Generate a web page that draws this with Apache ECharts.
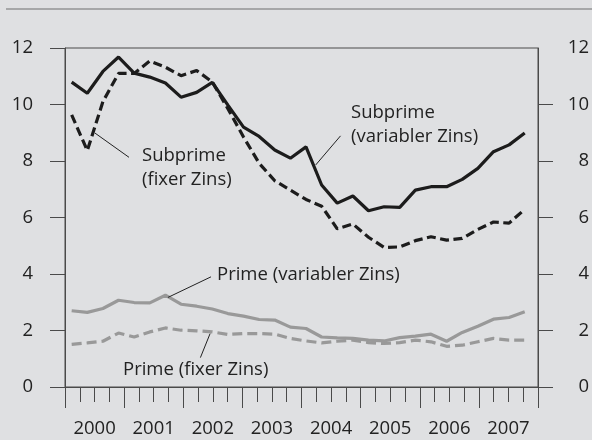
<!DOCTYPE html>
<html>
<head>
<meta charset="utf-8">
<script src="https://cdn.jsdelivr.net/npm/echarts@6/dist/echarts.min.js"></script>
<style>
html,body{margin:0;padding:0;background:#dfe0e2;}
#c{width:592px;height:440px;}
</style>
</head>
<body>
<div id="c"></div>
<script>
// ---- data ----
const years = ['2000','2001','2002','2003','2004','2005','2006','2007'];
const yTickValues = [0,2,4,6,8,10,12];
const subprimeVariabel = [10.79,10.40,11.17,11.68,11.11,10.97,10.76,10.26,10.43,10.78,9.98,9.20,8.87,8.39,8.10,8.50,7.15,6.51,6.76,6.24,6.38,6.36,6.97,7.09,7.09,7.35,7.74,8.33,8.57,8.99];
const subprimeFix = [9.63,8.37,10.10,11.10,11.10,11.54,11.32,11.02,11.20,10.80,9.85,8.85,7.92,7.30,6.97,6.64,6.40,5.60,5.77,5.30,4.94,4.96,5.18,5.32,5.20,5.26,5.58,5.84,5.80,6.29];
const primeVariabel = [2.70,2.64,2.78,3.07,2.99,2.98,3.25,2.93,2.86,2.76,2.60,2.51,2.39,2.37,2.12,2.07,1.77,1.74,1.72,1.66,1.63,1.75,1.80,1.87,1.62,1.93,2.15,2.40,2.46,2.66];
const primeFix = [1.51,1.56,1.62,1.91,1.77,1.95,2.09,2.01,1.99,1.95,1.86,1.89,1.89,1.87,1.72,1.63,1.56,1.62,1.66,1.57,1.54,1.57,1.66,1.60,1.44,1.48,1.60,1.72,1.66,1.66];
// leader lines (data units: point index, percent)
const leaderSubprimeFix = [[1.49,8.99],[3.67,8.13]];
const leaderSubprimeVar = [[17.21,8.89],[15.62,7.86]];
const leaderPrimeVar = [[8.92,3.90],[6.16,3.17]];
const leaderPrimeFix = [[8.24,1.04],[8.86,1.89]];

const FONT = '"Open Sans", "Noto Sans", sans-serif';
const TXT = '#222';
const AX = '#4a4a4a';

const toPairs = arr => arr.map((v,i)=>[i,v]);
const leader = seg => [{coord:seg[0]},{coord:seg[1]}];

const chart = echarts.init(document.getElementById('c'), null, {renderer:'canvas'});
chart.setOption({
  animation:false,
  backgroundColor:'#dfe0e2',
  textStyle:{fontFamily:FONT},
  grid:{left:65, top:48, width:475, height:339, show:true, borderColor:AX, borderWidth:1, backgroundColor:'transparent'},
  xAxis:[
    {type:'value', position:'bottom', min:0, max:32, interval:4,
     axisLine:{show:true, onZero:false, lineStyle:{color:AX, width:1}},
     axisTick:{show:true, length:21, lineStyle:{color:AX, width:1}},
     minorTick:{show:true, splitNumber:4, length:15, lineStyle:{color:AX, width:1}},
     axisLabel:{show:false}, splitLine:{show:false}},
    {type:'category', position:'bottom', data:years, boundaryGap:true,
     axisLine:{show:false, onZero:false}, axisTick:{show:false}, splitLine:{show:false},
     axisLabel:{show:true, interval:0, margin:42, verticalAlign:'middle', color:TXT, fontSize:18.5, fontFamily:FONT}},
    {type:'value', position:'bottom', min:-0.427, max:29.85, show:false, axisLine:{onZero:false}}
  ],
  yAxis:[
    {type:'value', position:'left', min:0, max:12, interval:2,
     axisLine:{show:true, onZero:false, lineStyle:{color:AX, width:1}},
     axisTick:{show:true, length:15, lineStyle:{color:AX, width:1}},
     splitLine:{show:false},
     axisLabel:{margin:32, color:TXT, fontSize:18.5, fontFamily:FONT, customValues:yTickValues}},
    {type:'value', position:'right', min:0, max:12, interval:2,
     axisLine:{show:true, onZero:false, lineStyle:{color:AX, width:1}},
     axisTick:{show:true, length:15, lineStyle:{color:AX, width:1}, customValues:yTickValues.slice(0,6)},
     splitLine:{show:false},
     axisLabel:{margin:51, align:'right', color:TXT, fontSize:18.5, fontFamily:FONT, customValues:yTickValues}}
  ],
  series:[
    {type:'line', xAxisIndex:2, yAxisIndex:0, data:toPairs(primeFix), symbol:'none',
     lineStyle:{color:'#999', width:3.2, type:[10,5]}},
    {type:'line', xAxisIndex:2, yAxisIndex:0, data:toPairs(primeVariabel), symbol:'none',
     lineStyle:{color:'#999', width:3.2}},
    {type:'line', xAxisIndex:2, yAxisIndex:0, data:toPairs(subprimeFix), symbol:'none',
     lineStyle:{color:'#1c1c1c', width:3.2, type:[9,4.5]}},
    {type:'line', xAxisIndex:2, yAxisIndex:0, data:toPairs(subprimeVariabel), symbol:'none',
     lineStyle:{color:'#1c1c1c', width:3.2},
     markLine:{silent:true, symbol:['none','none'], label:{show:false},
       lineStyle:{color:'#222', width:1, type:'solid'},
       data:[leader(leaderSubprimeFix), leader(leaderSubprimeVar), leader(leaderPrimeVar), leader(leaderPrimeFix)]}}
  ],
  graphic:[
    {type:'line', shape:{x1:6, y1:9, x2:592, y2:9}, style:{stroke:'#6e6e6e', lineWidth:1.2}},
    {type:'text', left:142, top:144, style:{text:'Subprime\n(fixer Zins)', fill:TXT, font:'18.5px '+FONT, lineHeight:24}},
    {type:'text', left:351, top:101, style:{text:'Subprime\n(variabler Zins)', fill:TXT, font:'18.5px '+FONT, lineHeight:24}},
    {type:'text', left:217, top:263, style:{text:'Prime (variabler Zins)', fill:TXT, font:'18.5px '+FONT, lineHeight:24}},
    {type:'text', left:123, top:358, style:{text:'Prime (fixer Zins)', fill:TXT, font:'18.5px '+FONT, lineHeight:24}}
  ]
});
</script>
</body>
</html>
